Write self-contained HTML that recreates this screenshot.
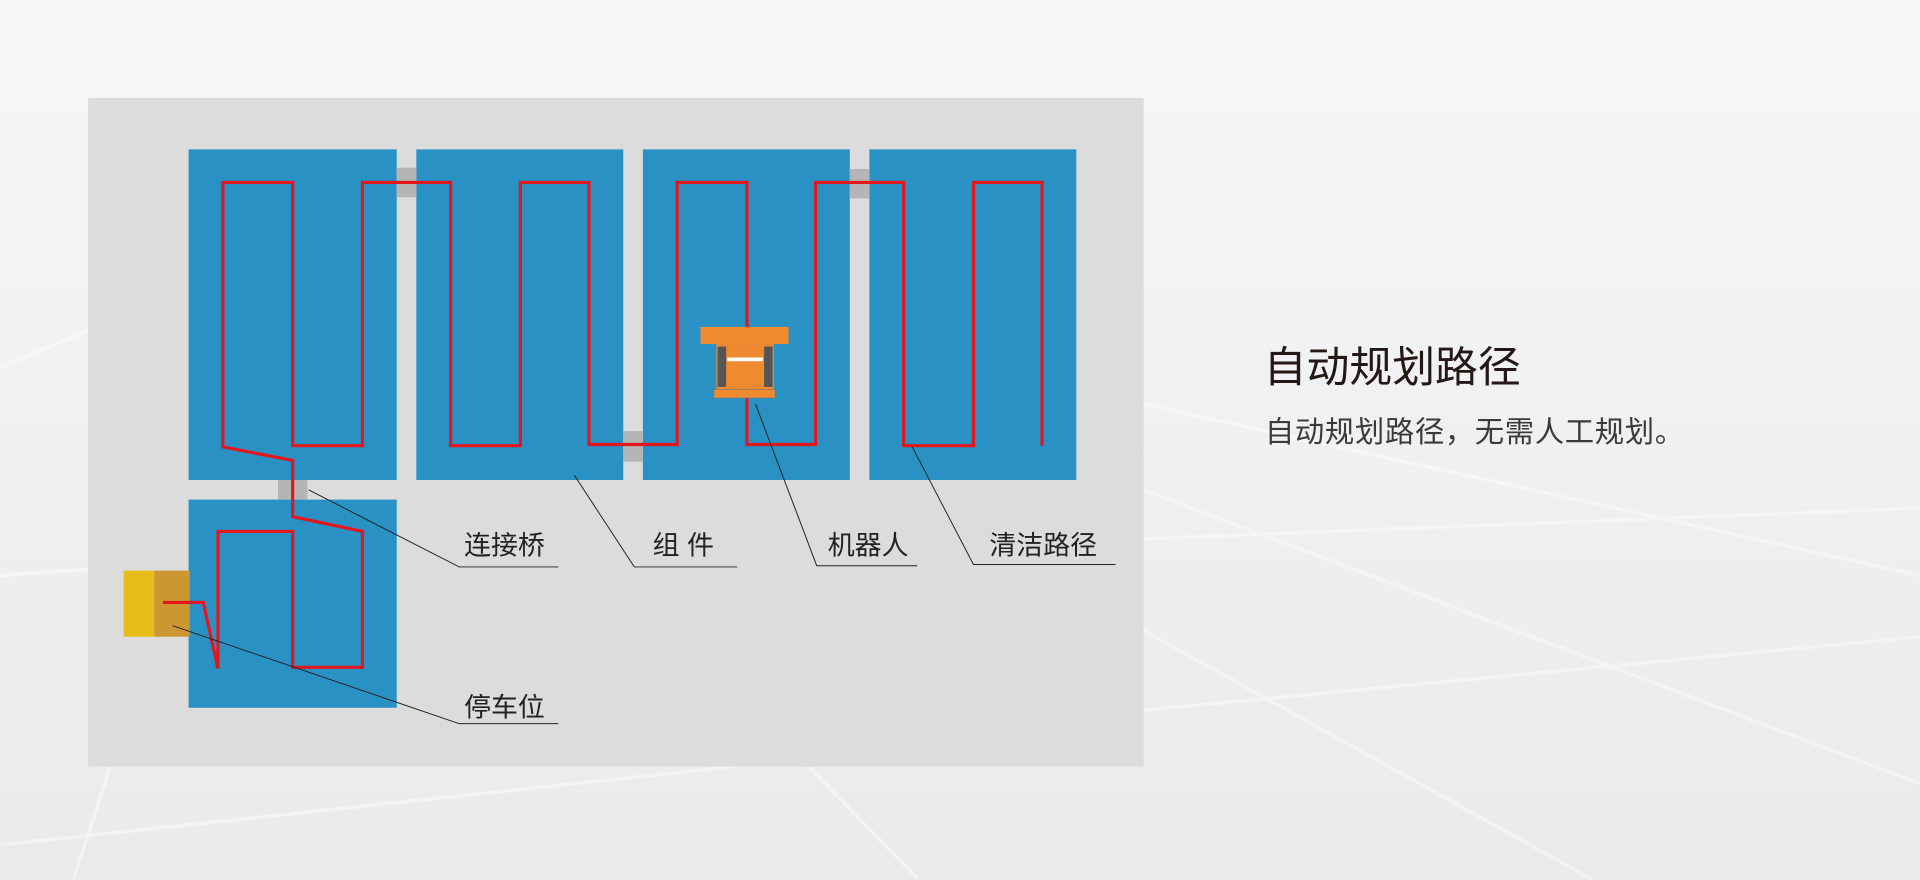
<!DOCTYPE html>
<html><head><meta charset="utf-8"><style>
html,body{margin:0;padding:0;width:1920px;height:880px;overflow:hidden;background:linear-gradient(180deg,#f7f7f8 0%,#eeeff1 60%,#e9eaec 100%);}
svg{display:block}
text{font-family:"Liberation Sans","Noto Sans CJK SC",sans-serif;}
</style></head><body>
<svg width="1920" height="880" viewBox="0 0 1568 718.67" xmlns="http://www.w3.org/2000/svg">
<g stroke="#ffffff" stroke-width="3" opacity="0.4" fill="none">
<line x1="934" y1="330" x2="1568" y2="470"/>
<line x1="934" y1="400" x2="1568" y2="640"/>
<line x1="934" y1="515" x2="1300" y2="718"/>
<line x1="934" y1="580" x2="1568" y2="520"/>
<line x1="934" y1="440" x2="1568" y2="415"/>
<line x1="660" y1="626" x2="750" y2="718"/>
<line x1="0" y1="690" x2="600" y2="626"/>
<line x1="60" y1="718" x2="90" y2="626"/>
<line x1="0" y1="300" x2="72" y2="270"/>
<line x1="0" y1="470" x2="72" y2="465"/>
</g>
<rect x="72" y="80" width="862" height="546" fill="#dcdcdc"/>
<g fill="#2a91c5">
<rect x="154" y="122" width="170" height="270"/>
<rect x="340" y="122" width="169" height="270"/>
<rect x="525" y="122" width="169" height="270"/>
<rect x="710" y="122" width="169" height="270"/>
<rect x="154" y="408" width="170" height="170"/>
</g>
<g fill="#b5b5b5">
<rect x="324" y="137" width="16" height="24"/>
<rect x="694" y="138" width="16" height="24"/>
<rect x="509" y="352" width="16" height="25"/>
<rect x="227" y="392" width="24" height="16"/>
</g>
<rect x="101" y="466" width="25" height="54" fill="#e8bd1a"/>
<rect x="126" y="466" width="29" height="54" fill="#cc9630"/>
<polyline fill="none" stroke="#e3161e" stroke-width="2.6" stroke-linejoin="miter"
points="133,492 166,492 178,546 178,434 239,434 239,545 296,545 296,434 239,422 239,376 182,365 182,149 239,149 239,364 296,364 296,149 368,149 368,364 425,364 425,149 481,149 481,363 553,363 553,149 610,149 610,363 666,363 666,149 738,149 738,364 795,364 795,149 851,149 851,364"/>
<g>
<rect x="572" y="267" width="72" height="14" fill="#ef8a30"/>
<rect x="585" y="281" width="47" height="37" fill="#ef8a30"/>
<rect x="586" y="283" width="7" height="33" fill="#555"/>
<rect x="624" y="283" width="7" height="33" fill="#555"/>
<rect x="594" y="292" width="29" height="3" fill="#fff"/>
<rect x="583" y="318" width="50" height="7" fill="#ef8a30" stroke="#777" stroke-width="0.5"/>
</g>
<g stroke="#222" stroke-width="0.8" fill="none">
<polyline points="252,400 375,463 456,463"/>
<polyline points="469,388 518,463 602,463"/>
<polyline points="617,330 667,462 749,462"/>
<polyline points="745,365 795,461 911,461"/>
<polyline points="141,511 375,591 456,591"/>
</g>
<g font-size="22" fill="#222">
<text x="379" y="453">连接桥</text>
<text x="533" y="453">组 件</text>
<text x="676" y="453">机器人</text>
<text x="808" y="453">清洁路径</text>
<text x="379" y="585">停车位</text>
</g>
<text x="1032" y="312" font-size="35" fill="#231815">自动规划路径</text>
<text x="1033" y="361" font-size="24" letter-spacing="0.5" fill="#3a3a3a">自动规划路径，无需人工规划。</text>
</svg>
</body></html>
